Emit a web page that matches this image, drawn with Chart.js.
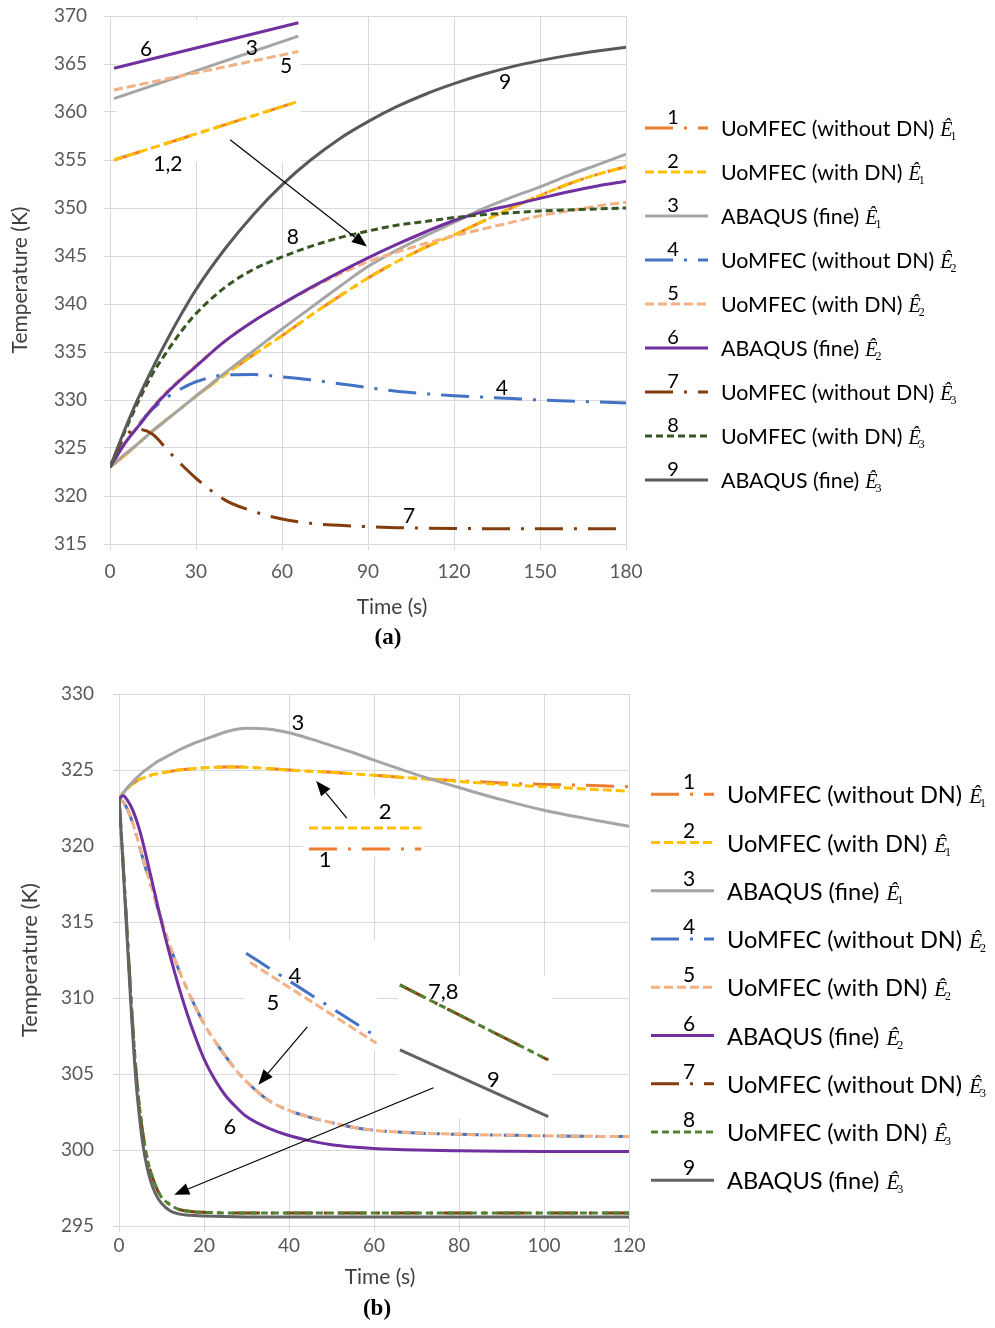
<!DOCTYPE html>
<html>
<head>
<meta charset="utf-8">
<script src="https://cdn.jsdelivr.net/npm/chart.js@4.4.0/dist/chart.umd.min.js"></script>
<style>
html,body{margin:0;padding:0;background:#fff;}
#page{position:relative;width:995px;height:1328px;overflow:hidden;background:#fff;}
.panel{position:absolute;left:0;width:995px;}
#wrapA{top:0;height:650px;}
#wrapB{top:660px;height:668px;}
.cap{position:absolute;font:bold 23px "Liberation Serif","Times New Roman",serif;color:#000;transform:translate(-50%,-50%);white-space:nowrap;}
.xt{position:absolute;font:21px Lato,"Open Sans",sans-serif;color:#404040;transform:translate(-50%,-50%);white-space:nowrap;}
</style>
</head>
<body>
<div id="page">
  <div class="panel" id="wrapA"><canvas id="chartA" width="995" height="650"></canvas></div>
  <div class="panel" id="wrapB"><canvas id="chartB" width="995" height="668"></canvas></div>
  <div class="xt" style="left:392px;top:605px">Time (s)</div>
  <div class="cap" style="left:388px;top:637px">(a)</div>
  <div class="xt" style="left:380px;top:1275px">Time (s)</div>
  <div class="cap" style="left:377px;top:1308px">(b)</div>
</div>
<script>
// ---------- legend text ----------
const seriesNumbers = ['1','2','3','4','5','6','7','8','9'];
const seriesNames = ['UoMFEC (without DN)','UoMFEC (with DN)','ABAQUS (fine)',
                     'UoMFEC (without DN)','UoMFEC (with DN)','ABAQUS (fine)',
                     'UoMFEC (without DN)','UoMFEC (with DN)','ABAQUS (fine)'];
const subscriptDigits = ['1','1','1','2','2','2','3','3','3'];

// ---------- panel (a): heating, 0-180 s ----------
const xTicksA = [0,30,60,90,120,150,180];
const yTicksA = [315,320,325,330,335,340,345,350,355,360,365,370];
const timeA = [0,5,10,15,20,25,30,40,50,60,70,80,90,100,110,120,130,140,150,160,170,180];
const a1 = [323,324.2,325.5,326.8,328.0,329.2,330.4,332.6,334.7,336.7,338.8,340.8,342.7,344.4,345.9,347.2,348.6,350.0,351.3,352.5,353.5,354.3];
const a2 = [323,324.2,325.5,326.8,328.0,329.2,330.4,332.6,334.7,336.7,338.8,340.8,342.7,344.4,345.9,347.2,348.6,350.0,351.3,352.5,353.5,354.3];
const a3 = [323,324.3,325.5,326.8,328.0,329.2,330.4,332.8,335.1,337.4,339.6,341.8,343.9,345.6,347.1,348.5,349.9,351.1,352.2,353.4,354.5,355.6];
const a4 = [323,325.4,327.5,329.1,330.3,331.2,331.9,332.6,332.65,332.4,332.1,331.7,331.3,330.9,330.65,330.45,330.3,330.15,330.0,329.9,329.8,329.7];
const a5 = [323,325.4,327.4,329.3,330.9,332.3,333.6,336.1,338.2,340.0,341.6,343.1,344.4,345.4,346.3,347.1,347.8,348.5,349.2,349.7,350.2,350.6];
const a6 = [323,325.4,327.3,329.2,330.8,332.2,333.5,336.1,338.2,340.0,341.7,343.3,344.8,346.2,347.5,348.7,349.6,350.3,351.0,351.7,352.3,352.8];
const a7 = [323,326.1,326.95,326.4,324.8,323.25,321.85,319.6,318.4,317.6,317.15,316.95,316.8,316.7,316.65,316.62,316.6,316.6,316.6,316.6,316.6,316.6];
const a8 = [323,326.6,329.9,332.8,335.1,337.2,339.0,341.7,343.6,344.9,346.0,346.9,347.6,348.2,348.6,349.0,349.3,349.5,349.7,349.8,349.9,350.0];
const a9 = [323,326.8,330.3,333.4,336.3,339.0,341.5,345.7,349.3,352.4,355.0,357.2,359.0,360.55,361.85,362.95,363.9,364.7,365.35,365.9,366.35,366.75];

// magnified segments in the upper-left corner of (a)
const insetTimeA = [1.4, 65.7];
const insetA12 = [355.0, 361.1];
const insetA3 = [361.4, 367.9];
const insetA5 = [362.3, 366.3];
const insetA6 = [364.55, 369.3];

// ---------- panel (b): cooling, 0-120 s ----------
const xTicksB = [0,20,40,60,80,100,120];
const yTicksB = [295,300,305,310,315,320,325,330];
const timeB = [0,1,2,3,4,5,6,7,8,9,10,12,14,16,18,20,22,25,28,30,35,40,45,50,55,60,70,80,90,100,110,120];
const b1 = [323.1,323.5,323.8,324.05,324.25,324.4,324.5,324.6,324.7,324.75,324.8,324.9,325.0,325.05,325.1,325.15,325.17,325.2,325.2,325.18,325.1,325.0,324.92,324.85,324.75,324.65,324.45,324.3,324.15,324.05,324.0,323.9];
const b2 = [323.1,323.5,323.8,324.05,324.25,324.4,324.5,324.6,324.7,324.75,324.8,324.9,325.0,325.05,325.1,325.15,325.17,325.2,325.2,325.18,325.1,325.0,324.92,324.85,324.75,324.65,324.45,324.25,324.05,323.9,323.75,323.6];
const b3 = [323.1,323.5,323.85,324.15,324.45,324.7,324.95,325.15,325.35,325.55,325.7,326.0,326.3,326.55,326.8,327.0,327.2,327.5,327.7,327.75,327.7,327.45,327.05,326.6,326.15,325.65,324.7,323.85,323.05,322.35,321.8,321.3];
const b4 = [323.1,322.9,322.4,321.7,320.8,319.8,318.8,317.9,317.0,316.0,315.1,313.4,311.9,310.6,309.4,308.3,307.4,306.2,305.1,304.5,303.3,302.6,302.15,301.8,301.5,301.3,301.12,301.03,300.98,300.93,300.9,300.88];
const b5 = [323.1,322.9,322.4,321.7,320.8,319.8,318.8,317.9,317.0,316.0,315.1,313.4,311.9,310.6,309.4,308.3,307.4,306.2,305.1,304.5,303.3,302.6,302.15,301.8,301.5,301.3,301.12,301.03,300.98,300.93,300.9,300.88];
const b6 = [323.1,323.3,323.0,322.5,321.8,320.9,319.8,318.6,317.4,316.2,315.0,312.8,310.8,309.0,307.4,306.0,304.9,303.6,302.7,302.2,301.45,300.95,300.6,300.35,300.2,300.1,300.0,299.95,299.92,299.9,299.9,299.9];
const timeBFast = [0,0.5,1,1.5,2,2.5,3,3.5,4,4.5,5,5.5,6,7,8,9,10,12,14,17,20,30,40,60,80,100,120];
const b7 = [323.1,321.0,318.7,316.3,313.9,311.5,309.2,307.1,305.2,303.7,302.4,301.3,300.4,299.0,298.1,297.4,296.9,296.4,296.1,295.95,295.9,295.85,295.85,295.85,295.85,295.85,295.85];
const b8 = [323.1,321.0,318.7,316.3,313.9,311.5,309.2,307.1,305.2,303.7,302.4,301.3,300.4,299.0,298.1,297.4,296.9,296.4,296.1,295.95,295.9,295.85,295.85,295.85,295.85,295.85,295.85];
const b9 = [323.1,320.9,318.5,316.0,313.5,311.0,308.6,306.4,304.5,303.0,301.7,300.6,299.7,298.4,297.5,296.9,296.5,296.0,295.8,295.7,295.65,295.6,295.6,295.6,295.6,295.6,295.6];

// magnified segments in (b)
const insetTimeB12 = [44.7, 71.1];
const insetB1 = [319.8, 319.8];
const insetB2 = [321.18, 321.18];
const insetTimeB4 = [29.9, 60.6];
const insetB4 = [312.94, 307.45];
const insetTimeB5 = [30.8, 60.6];
const insetB5 = [312.35, 307.02];
const insetTimeB789 = [66.1, 101.0];
const insetB78 = [310.86, 305.92];
const insetB9 = [306.58, 302.19];

// ---------- styles ----------
const DASHDOT = [28, 11, 3, 11];
const stylesA = [
  {borderColor:'#ED7D31', borderDash:DASHDOT},
  {borderColor:'#FFC000', borderDash:[9,4]},
  {borderColor:'#A5A5A5', borderDash:[]},
  {borderColor:'#4472C4', borderDash:DASHDOT},
  {borderColor:'#F4B183', borderDash:[9,4]},
  {borderColor:'#7030A0', borderDash:[]},
  {borderColor:'#843C0C', borderDash:DASHDOT},
  {borderColor:'#375623', borderDash:[7,4]},
  {borderColor:'#595959', borderDash:[]}
];
const stylesB = stylesA.map((s, i) => i === 7 ? {borderColor:'#548235', borderDash:[7,4]}
                                     : i === 8 ? {borderColor:'#636363', borderDash:[]} : s);

const FONT = 'Lato, "Open Sans", sans-serif';

function line(xs, ys, style, order) {
  return Object.assign({
    data: xs.map((t, i) => ({x: t, y: ys[i]})),
    pointRadius: 0, borderWidth: 3, fill: false,
    cubicInterpolationMode: 'monotone', order: order
  }, style);
}

// white patches behind magnified segments, arrows and number labels
const annotate = {
  id: 'annotate',
  beforeDatasetsDraw(chart, args, o) {
    const {ctx, scales: {x, y}} = chart;
    ctx.save();
    ctx.fillStyle = '#ffffff';
    (o.boxes || []).forEach(b => {
      const x1 = x.getPixelForValue(b.t0), x2 = x.getPixelForValue(b.t1);
      const y1 = y.getPixelForValue(b.T1), y2 = y.getPixelForValue(b.T0);
      ctx.fillRect(x1, y1, x2 - x1, y2 - y1);
    });
    ctx.restore();
  },
  afterDatasetsDraw(chart, args, o) {
    const {ctx, scales: {x, y}} = chart;
    ctx.save();
    ctx.strokeStyle = '#000'; ctx.fillStyle = '#000'; ctx.lineWidth = 1.2;
    (o.arrows || []).forEach(a => {
      const x1 = x.getPixelForValue(a.t0), y1 = y.getPixelForValue(a.T0);
      const x2 = x.getPixelForValue(a.t1), y2 = y.getPixelForValue(a.T1);
      const ang = Math.atan2(y2 - y1, x2 - x1), L = 15, W = 6;
      const bx = x2 - L * Math.cos(ang), by = y2 - L * Math.sin(ang);
      ctx.beginPath(); ctx.moveTo(x1, y1); ctx.lineTo(bx, by); ctx.stroke();
      ctx.beginPath();
      ctx.moveTo(x2, y2);
      ctx.lineTo(bx + W * Math.sin(ang), by - W * Math.cos(ang));
      ctx.lineTo(bx - W * Math.sin(ang), by + W * Math.cos(ang));
      ctx.closePath(); ctx.fill();
    });
    ctx.font = o.labelSize + 'px ' + FONT;
    ctx.textAlign = 'center'; ctx.textBaseline = 'middle';
    (o.labels || []).forEach(l => {
      ctx.fillText(l.text, x.getPixelForValue(l.t), y.getPixelForValue(l.T));
    });
    ctx.restore();
  }
};

// legend on the right: sample line, number above it, name and E-hat symbol
const sideLegend = {
  id: 'sideLegend',
  afterDraw(chart, args, o) {
    const ctx = chart.ctx;
    seriesNames.forEach((name, i) => {
      const st = o.styles[i];
      const yy = o.y0 + i * o.dy;
      ctx.save();
      ctx.strokeStyle = st.borderColor; ctx.lineWidth = 3;
      ctx.setLineDash(st.borderDash || []);
      ctx.beginPath(); ctx.moveTo(o.x0, yy); ctx.lineTo(o.x1, yy); ctx.stroke();
      ctx.setLineDash([]);
      ctx.fillStyle = '#000';
      ctx.textBaseline = 'alphabetic';
      ctx.textAlign = 'center';
      ctx.font = o.numSize + 'px ' + FONT;
      ctx.fillText(seriesNumbers[i], o.numX, yy - o.numLift);
      ctx.textAlign = 'left';
      ctx.font = o.textSize + 'px ' + FONT;
      ctx.fillText(name, o.textX, yy + o.baseDrop);
      const w = ctx.measureText(name).width;
      const ex = o.textX + w + o.eGap;
      ctx.font = 'italic ' + o.eSize + 'px "Liberation Serif", serif';
      ctx.fillText('\u00CA', ex, yy + o.baseDrop);
      const we = ctx.measureText('\u00CA').width;
      ctx.font = o.subSize + 'px "Liberation Serif", serif';
      ctx.fillText(subscriptDigits[i], ex + we - 2, yy + o.baseDrop + o.subDrop);
      ctx.restore();
    });
  }
};

function axes(xMin, xMax, xTicks, yMin, yMax, yTicks, yWidth, yTitlePad, yLabPad, xLabPad, titleSize) {
  const grid = {color:'#d9d9d9', lineWidth:1, tickLength:6};
  const tickFont = {family: FONT, size: 19};
  return {
    x: {type:'linear', min:xMin, max:xMax,
        afterBuildTicks: s => { s.ticks = xTicks.map(v => ({value: v})); },
        afterFit: s => { s.height = 80; },
        grid: grid, border:{color:'#d9d9d9'},
        ticks:{font:tickFont, color:'#595959', padding:xLabPad, maxRotation:0}},
    y: {type:'linear', min:yMin, max:yMax,
        afterBuildTicks: s => { s.ticks = yTicks.map(v => ({value: v})); },
        // fixed axis width; the layout padding alone decides the plot's top edge
        afterFit: s => { s.width = yWidth; s.paddingTop = 0; s.paddingBottom = 0; },
        grid: grid, border:{color:'#d9d9d9'},
        ticks:{font:tickFont, color:'#595959', padding:yLabPad},
        title:{display:true, text:'Temperature (K)', color:'#404040',
               font:{family: FONT, size: titleSize}, padding:{top:yTitlePad, bottom:0}}}
  };
}

// ---------- chart (a) ----------
const mainA = [a1,a2,a3,a4,a5,a6,a7,a8,a9].map((v, i) => line(timeA, v, stylesA[i], 20 - i));
const insetsA = [
  line(insetTimeA, insetA12, stylesA[0], 5),
  line(insetTimeA, insetA12, stylesA[1], 4),
  line(insetTimeA, insetA3, stylesA[2], 3),
  line(insetTimeA, insetA5, stylesA[4], 2),
  line(insetTimeA, insetA6, stylesA[5], 1)
];
new Chart(document.getElementById('chartA'), {
  type: 'line',
  data: {datasets: mainA.concat(insetsA)},
  options: {
    responsive:false, animation:false, devicePixelRatio:1,
    layout:{padding:{left:0, top:16, right:369, bottom:26}},
    scales: axes(0, 180, xTicksA, 315, 370, yTicksA, 110, 8, 17, 10, 21),
    plugins: {
      legend:{display:false}, tooltip:{enabled:false},
      annotate: {
        labelSize: 21,
        boxes: [{t0:2.4, t1:66.6, T0:354.8, T1:369.6}],
        arrows: [{t0:41.9, T0:357.1, t1:89.6, T1:346.0}],
        labels: [
          {text:'9', t:137.8, T:363.1}, {text:'8', t:63.8, T:347.0},
          {text:'4', t:136.7, T:331.25}, {text:'7', t:104.3, T:317.9},
          {text:'6', t:12.6, T:366.56}, {text:'3', t:49.5, T:366.67},
          {text:'5', t:61.4, T:364.8}, {text:'1,2', t:20.2, T:354.6}
        ]
      },
      sideLegend: {styles:stylesA, x0:645, x1:708, y0:128, dy:44, numX:673, numLift:4, numSize:20,
                   textX:721, textSize:21.4, baseDrop:8, eGap:6, eSize:20, subSize:12, subDrop:4}
    }
  },
  plugins: [annotate, sideLegend]
});

// ---------- chart (b) ----------
const mainB = [
  line(timeB, b1, stylesB[0], 20), line(timeB, b2, stylesB[1], 19), line(timeB, b3, stylesB[2], 18),
  line(timeB, b4, stylesB[3], 17), line(timeB, b5, stylesB[4], 16), line(timeB, b6, stylesB[5], 15),
  line(timeBFast, b7, stylesB[6], 14), line(timeBFast, b8, stylesB[7], 13), line(timeBFast, b9, stylesB[8], 12)
];
const insetsB = [
  line(insetTimeB12, insetB1, stylesB[0], 7),
  line(insetTimeB12, insetB2, stylesB[1], 6),
  line(insetTimeB4, insetB4, stylesB[3], 5),
  line(insetTimeB5, insetB5, stylesB[4], 4),
  line(insetTimeB789, insetB78, stylesB[6], 3),
  line(insetTimeB789, insetB78, stylesB[7], 2),
  line(insetTimeB789, insetB9, stylesB[8], 1)
];
new Chart(document.getElementById('chartB'), {
  type: 'line',
  data: {datasets: mainB.concat(insetsB)},
  options: {
    responsive:false, animation:false, devicePixelRatio:1,
    layout:{padding:{left:0, top:34, right:366, bottom:22}},
    scales: axes(0, 120, xTicksB, 295, 330, yTicksB, 119, 17, 19, 2, 22),
    plugins: {
      legend:{display:false}, tooltip:{enabled:false},
      annotate: {
        labelSize: 22,
        boxes: [
          {t0:43.3, t1:71.8, T0:319.3, T1:323.2},
          {t0:29.6, t1:60.7, T0:306.6, T1:313.8},
          {t0:65.6, t1:101.9, T0:302.1, T1:311.5}
        ],
        arrows: [
          {t0:53.6, T0:321.84, t1:46.4, T1:324.28},
          {t0:44.3, T0:308.1, t1:32.8, T1:304.3},
          {t0:74.0, T0:304.1, t1:13.0, T1:297.06}
        ],
        labels: [
          {text:'3', t:42.1, T:328.1}, {text:'2', t:62.6, T:322.24},
          {text:'1', t:48.5, T:319.1}, {text:'4', t:41.4, T:311.45},
          {text:'5', t:36.2, T:309.65}, {text:'7,8', t:76.3, T:310.4},
          {text:'9', t:88.1, T:304.6}, {text:'6', t:26.1, T:301.5}
        ]
      },
      sideLegend: {styles:stylesB, x0:651, x1:714, y0:134.3, dy:48.25, numX:689, numLift:5, numSize:21,
                   textX:727, textSize:23.6, baseDrop:9, eGap:7, eSize:21, subSize:12, subDrop:4}
    }
  },
  plugins: [annotate, sideLegend]
});
</script>
</body>
</html>
